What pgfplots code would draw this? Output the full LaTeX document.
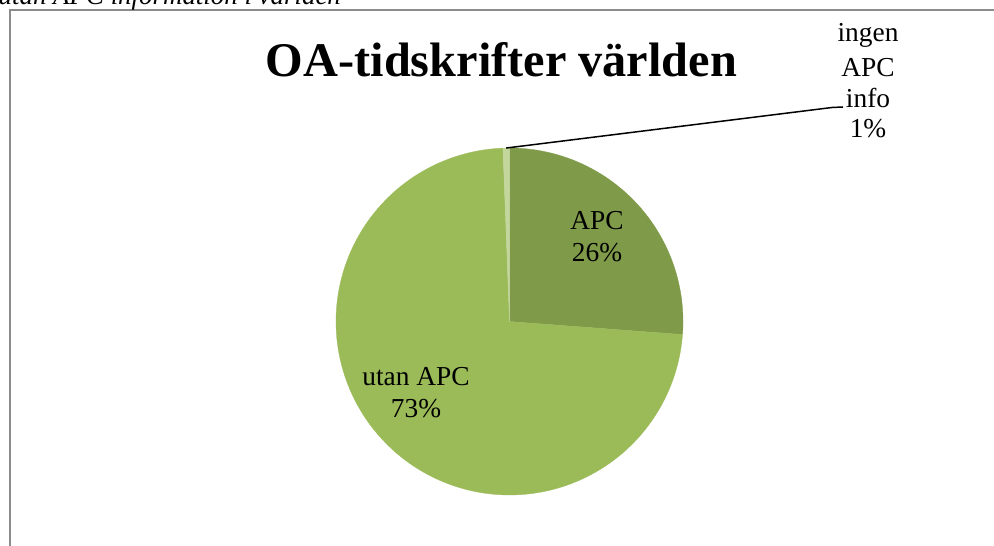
\documentclass[border=0pt]{standalone}
\usepackage{pgfplots}
\pgfplotsset{compat=1.18}
\usepackage{pgfplotstable}
\usepackage{fontspec}
\setmainfont{Liberation Serif}
\definecolor{apc}{HTML}{7F9A48}
\definecolor{utan}{HTML}{9BBB59}
\definecolor{ingen}{HTML}{C3D69B}
\definecolor{framegray}{HTML}{8C8C8C}

\pgfplotstableread{
part value
APC 26.2
utanAPC 73.2
ingenAPCinfo 0.6
}\piedata
\pgfplotstablegetelem{0}{value}\of\piedata \let\vA\pgfplotsretval
\pgfplotstablegetelem{1}{value}\of\piedata \let\vB\pgfplotsretval
\pgfplotstablegetelem{2}{value}\of\piedata \let\vC\pgfplotsretval
\pgfmathsetmacro\tot{\vA+\vB+\vC}
\pgfmathsetmacro\aA{\vA/\tot*360}
\pgfmathsetmacro\aB{\aA+\vB/\tot*360}
\pgfmathsetmacro\aC{360}
\pgfmathsetmacro\aMidC{(\aB+\aC)/2}
\newcommand\pieR{173.5}

\begin{document}
\begin{tikzpicture}
\begin{axis}[hide axis, scale only axis, width=994bp, height=546bp,
  xmin=-509.5, xmax=484.5, ymin=-224.5, ymax=321.5, clip=false]
\coordinate (bl) at (axis cs:-509.5,-224.5);
\coordinate (tr) at (axis cs:484.5,321.5);
% frame
\draw[framegray, line width=2bp] (axis cs:-499.5,-300) -- (axis cs:-499.5,311) -- (axis cs:600,311);
% top caption (cut off, as in the reference)
\node[anchor=base west, inner sep=0pt, font=\itshape\fontsize{27}{32}\selectfont] at (axis cs:-511,316.5) {utan APC information i världen};
% pie slices
\addplot[fill=apc, draw=apc, line width=0.3bp, domain=0:\aA, samples=90] ({\pieR*sin(x)},{\pieR*cos(x)}) -- (axis cs:0,0) -- cycle;
\addplot[fill=utan, draw=utan, line width=0.3bp, domain=\aA:\aB, samples=180] ({\pieR*sin(x)},{\pieR*cos(x)}) -- (axis cs:0,0) -- cycle;
\addplot[fill=ingen, draw=ingen, line width=0.3bp, domain=\aB:\aC, samples=10] ({\pieR*sin(x)},{\pieR*cos(x)}) -- (axis cs:0,0) -- cycle;
% title
\node[anchor=base, inner sep=0pt, font=\bfseries\fontsize{48.5}{58}\selectfont] at (axis cs:-8,244.5) {OA-tidskrifter världen};
% labels
\begin{scope}[every node/.style={anchor=base, inner sep=0pt, font=\fontsize{27.5}{32}\selectfont}]
\node at (axis cs:87.5,91.5) {APC};
\node at (axis cs:87.5,59.5) {26\%};
\node at (axis cs:-93.5,-64.5) {utan APC};
\node at (axis cs:-93.5,-96.5) {73\%};
\node at (axis cs:358.5,279.5) {ingen};
\node at (axis cs:358.5,244.5) {APC};
\node at (axis cs:358.5,213.5) {info};
\node at (axis cs:358.5,183.5) {1\%};
\end{scope}
\draw[black, line width=1.5bp] (axis cs:{\pieR*sin(\aMidC)},{\pieR*cos(\aMidC)}) -- (axis cs:322.5,214) -- (axis cs:333.5,214.5);
\end{axis}
\pgfresetboundingbox
\path[use as bounding box] (bl) rectangle (tr);
\end{tikzpicture}
\end{document}
